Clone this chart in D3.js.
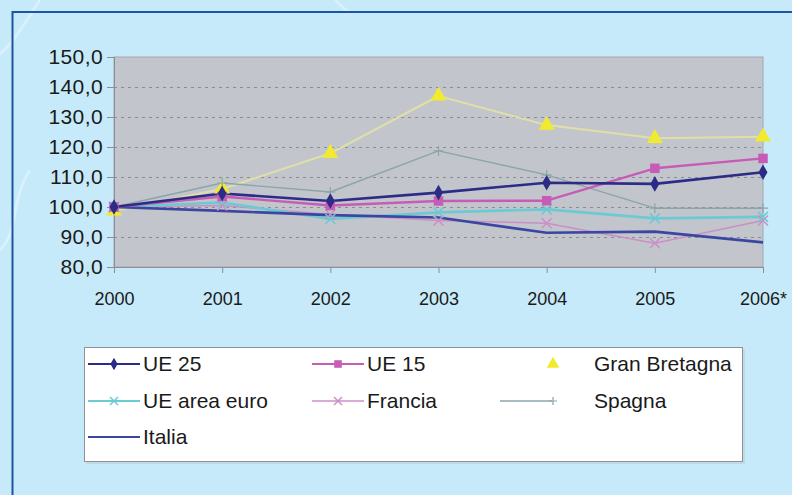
<!DOCTYPE html>
<html>
<head>
<meta charset="utf-8">
<script src="https://cdn.jsdelivr.net/npm/d3@7"></script>
<style>
  html, body { margin: 0; padding: 0; background: #c6eaf9; }
  svg { display: block; }
  text { font-family: "Liberation Sans", Arial, sans-serif; fill: #1a1a1a; }
</style>
</head>
<body>
<svg id="chart" width="792" height="495"></svg>
<script>
// Index values, 2000 = 100
const years = ["2000", "2001", "2002", "2003", "2004", "2005", "2006*"];
const yTicks = [80, 90, 100, 110, 120, 130, 140, 150];

const ue25        = [100, 104.5, 102.0, 104.8, 108.1, 107.7, 111.6];
const ue15        = [100, 103.5, 100.5, 102.0, 102.1, 112.9, 116.2];
const granBret    = [98.7, 106.0, 117.9, 137.0, 127.3, 122.9, 123.4];
const ueAreaEuro  = [100, 101.5, 96.0, 98.2, 99.2, 96.2, 96.7];
const francia     = [100, 100.5, 97.5, 95.5, 94.6, 87.9, 95.5];
const spagna      = [100, 108.0, 105.0, 118.7, 110.7, 99.6, 99.6];
const italia      = [100, 98.7, 97.3, 96.5, 91.4, 91.8, 88.2];

const series = [
  { name: "UE 25",         values: ue25,       color: "#2c2c86", width: 2.6, marker: "diamond" },
  { name: "UE 15",         values: ue15,       color: "#c65cb6", width: 2.4, marker: "square" },
  { name: "Gran Bretagna", values: granBret,   color: "#f2ea2c", width: 2.0, marker: "triangle", line: "#e0e0a6", legendLine: false },
  { name: "UE area euro",  values: ueAreaEuro, color: "#6ccad2", width: 2.6, marker: "x" },
  { name: "Francia",       values: francia,    color: "#cc8ec6", width: 1.4, marker: "x" },
  { name: "Spagna",        values: spagna,     color: "#8aa6a8", width: 1.4, marker: "plus" },
  { name: "Italia",        values: italia,     color: "#3a46a0", width: 2.6, marker: null }
];

const svg = d3.select("#chart");

// Outer frame
svg.append("rect").attr("x", 0).attr("y", 0).attr("width", 792).attr("height", 495).attr("fill", "#c6eaf9");
svg.append("path")
  .attr("d", "M-10,60 C10,50 20,30 40,0 M0,250 C20,230 10,200 30,170 M335,0 L348,12")
  .attr("fill", "none").attr("stroke", "#dff4fd").attr("stroke-width", 3).attr("opacity", 0.7);
svg.append("path")
  .attr("d", "M12.5,495 L12.5,12 L792,12")
  .attr("fill", "none").attr("stroke", "#1f55a0").attr("stroke-width", 2);

const x = d3.scalePoint().domain(years).range([114, 763]);
const y = d3.scaleLinear().domain([80, 150]).range([267, 57]);

// Plot area
svg.append("rect")
  .attr("x", x.range()[0]).attr("y", y(150))
  .attr("width", x.range()[1] - x.range()[0]).attr("height", y(80) - y(150))
  .attr("fill", "#c3c5cd").attr("stroke", "#a4a7ad").attr("stroke-width", 1);

// Dashed gridlines
svg.append("g").selectAll("line")
  .data(yTicks.filter(v => v > 80 && v < 150))
  .join("line")
  .attr("x1", x.range()[0]).attr("x2", x.range()[1])
  .attr("y1", d => Math.round(y(d)) + 0.5).attr("y2", d => Math.round(y(d)) + 0.5)
  .attr("stroke", "#8a8c92").attr("stroke-width", 1).attr("stroke-dasharray", "3,4");

// Axes
const yAxis = d3.axisLeft(y).tickValues(yTicks).tickSize(7).tickPadding(4)
  .tickFormat(d => d3.format(".1f")(d).replace(".", ","));
const gy = svg.append("g").attr("transform", `translate(${x.range()[0]},0)`).call(yAxis);
gy.select(".domain").attr("stroke", "#8c8e94");
gy.selectAll(".tick line").attr("stroke", "#8c8e94");
gy.selectAll(".tick text").attr("font-size", 21).attr("fill", "#1a1a1a")
  .attr("letter-spacing", "0.4px")
  .attr("font-family", "Liberation Sans, Arial, sans-serif");

const xAxis = d3.axisBottom(x).tickSize(6).tickPadding(19);
const gx = svg.append("g").attr("transform", `translate(0,${y(80)})`).call(xAxis);
gx.select(".domain").attr("stroke", "#8c8e94");
gx.selectAll(".tick line").attr("stroke", "#8c8e94");
gx.selectAll(".tick text").attr("font-size", 18).attr("fill", "#1a1a1a")
  .attr("font-family", "Liberation Sans, Arial, sans-serif");

// Marker shapes
function drawMarker(g, type, cx, cy, color, scale) {
  const s = scale || 1;
  if (type === "diamond") {
    g.append("path").attr("d", d3.symbol(d3.symbolDiamond, 70 * s * s)()).attr("transform", `translate(${cx},${cy})`).attr("fill", color);
  } else if (type === "square") {
    g.append("path").attr("d", d3.symbol(d3.symbolSquare, 90 * s * s)()).attr("transform", `translate(${cx},${cy})`).attr("fill", color);
  } else if (type === "triangle") {
    g.append("path").attr("d", d3.symbol(d3.symbolTriangle, 110 * s * s)()).attr("transform", `translate(${cx},${cy})`).attr("fill", color);
  } else if (type === "x") {
    const r = 5 * s;
    g.append("path").attr("d", `M${cx - r},${cy - r}L${cx + r},${cy + r}M${cx - r},${cy + r}L${cx + r},${cy - r}`)
      .attr("stroke", color).attr("stroke-width", 1.5).attr("fill", "none");
  } else if (type === "plus") {
    const r = 5 * s;
    g.append("path").attr("d", `M${cx - r},${cy}L${cx + r},${cy}M${cx},${cy - r}L${cx},${cy + r}`)
      .attr("stroke", color).attr("stroke-width", 1.2).attr("fill", "none");
  }
}

const line = d3.line().x((d, i) => x(years[i])).y(d => y(d));

// Lines drawn back to front
const order = ["Gran Bretagna", "Spagna", "Francia", "UE area euro", "Italia", "UE 15", "UE 25"];
const plot = svg.append("g");
order.forEach(n => {
  const s = series.find(d => d.name === n);
  plot.append("path").datum(s.values).attr("d", line)
    .attr("fill", "none").attr("stroke", s.line || s.color).attr("stroke-width", s.width)
    .attr("stroke-linejoin", "round");
});
order.forEach(n => {
  const s = series.find(d => d.name === n);
  if (!s.marker) return;
  const g = plot.append("g");
  s.values.forEach((v, i) => drawMarker(g, s.marker, x(years[i]), y(v), s.color, 1));
});

// Legend
const legend = svg.append("g");
legend.append("rect").attr("x", 86).attr("y", 349).attr("width", 659).attr("height", 115).attr("fill", "#b8cfd9").attr("opacity", 0.6);
legend.append("rect").attr("x", 84.5).attr("y", 347.5).attr("width", 658).attr("height", 114)
  .attr("fill", "#ffffff").attr("stroke", "#8e9296").attr("stroke-width", 1);

const colX = [88, 312, 500];
const rowY = [364, 401, 437];
series.forEach((s, i) => {
  const col = i % 3, row = Math.floor(i / 3);
  const lx = colX[col], ly = rowY[row];
  const g = legend.append("g");
  if (s.legendLine !== false) {
    g.append("line").attr("x1", lx).attr("x2", lx + 52).attr("y1", ly).attr("y2", ly)
      .attr("stroke", s.color).attr("stroke-width", Math.min(s.width, 2));
  }
  if (s.marker) drawMarker(g, s.marker, lx + 26 + (col === 2 ? 27 : 0), ly, s.color, 0.8);
  g.append("text").attr("x", col === 2 ? 594 : lx + 55).attr("y", ly).attr("dy", "0.35em")
    .attr("font-size", 21).text(s.name);
});
</script>
</body>
</html>
